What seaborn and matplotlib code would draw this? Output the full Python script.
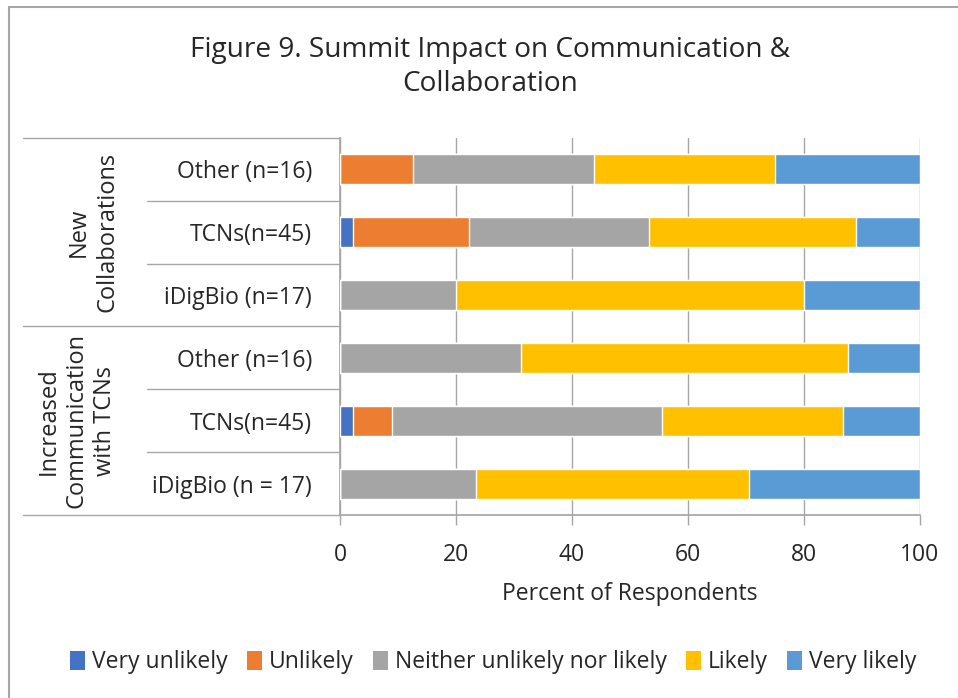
import numpy as np
import pandas as pd
import matplotlib
matplotlib.use("Agg")
import matplotlib.pyplot as plt
import seaborn as sns
from matplotlib.patches import Patch, Rectangle
from matplotlib.lines import Line2D
import matplotlib.transforms as mtransforms

# ---- data (percent of respondents), top row first ----
row_labels = ["Other (n=16)", "TCNs(n=45)", "iDigBio (n=17)",
              "Other (n=16)", "TCNs(n=45)", "iDigBio (n = 17)"]
groups = ["New\nCollaborations", "Increased\nCommunication\nwith TCNs"]
responses = ["Very unlikely", "Unlikely", "Neither unlikely nor likely",
             "Likely", "Very likely"]

very_unlikely = [0, 2.2, 0, 0, 2.2, 0]
unlikely = [12.5, 20.0, 0, 0, 6.7, 0]
neither = [31.25, 31.1, 20.0, 31.25, 46.7, 23.5]
likely = [31.25, 35.6, 60.0, 56.25, 31.1, 47.1]
very_likely = [25.0, 11.1, 20.0, 12.5, 13.3, 29.4]

colors = ["#4472C4", "#ED7D31", "#A5A5A5", "#FFC000", "#5B9BD5"]

sns.set_theme(style="white")
plt.rcParams["font.family"] = ["Open Sans", "DejaVu Sans"]

df = pd.DataFrame({"row": [f"r{i}" for i in range(len(row_labels))]})
series = [very_unlikely, unlikely, neither, likely, very_likely]
cum = np.cumsum(np.array(series), axis=0)

fig = plt.figure(figsize=(9.58, 6.98), dpi=100)
W, H = 958, 698
ax = fig.add_axes([340 / W, 1 - 515 / H, 580 / W, (515 - 138) / H])

# draw cumulative layers from the longest to the shortest
for k in range(len(responses) - 1, -1, -1):
    d = df.copy()
    d["value"] = cum[k]
    sns.barplot(data=d, x="value", y="row", orient="h", color=colors[k],
                width=0.48, saturation=1, ax=ax, zorder=3)

ax.set_xlim(0, 100)
ax.set_ylim(len(row_labels) - 0.5, -0.5)
ax.set_xticks(np.arange(0, 101, 20))
ax.tick_params(axis="x", labelsize=16.5, length=7, color="#A6A6A6", width=1,
               pad=13, direction="out", bottom=True)
ax.set_yticks(range(len(row_labels)))
ax.set_yticklabels(row_labels, fontsize=16.5)
ax.tick_params(axis="y", length=0, pad=20)
ax.set_xlabel("Percent of Respondents", fontsize=16.5, labelpad=11)
ax.set_ylabel("")
ax.grid(axis="x", color="#A6A6A6", linewidth=1, zorder=0)
ax.set_axisbelow(True)
for s in ["top", "right"]:
    ax.spines[s].set_visible(False)
ax.spines["left"].set_color("#A6A6A6")
ax.spines["bottom"].set_color("#A6A6A6")

# label-area separators
trans = mtransforms.blended_transform_factory(ax.transAxes, ax.transData)
x_outer = (23 - 340) / 580
x_inner = (147 - 340) / 580
for b in np.arange(-0.5, len(row_labels), 1.0):
    x0 = x_outer if b in (-0.5, 2.5, 5.5) else x_inner
    ax.add_line(Line2D([x0, 0], [b, b], transform=trans, color="#A6A6A6",
                       linewidth=1, clip_on=False))

# group labels
ax.text((93 - 340) / 580, 1.0, groups[0], transform=trans, rotation=90,
        ha="center", va="center", fontsize=17, linespacing=1.25)
ax.text((77 - 340) / 580, 4.0, groups[1], transform=trans, rotation=90,
        ha="center", va="center", fontsize=17, linespacing=1.25)

fig.text(490 / W, 1 - 67 / H, "Figure 9. Summit Impact on Communication &\nCollaboration",
         ha="center", va="center", fontsize=20.2, linespacing=1.3)

handles = [Patch(facecolor=c, edgecolor="none") for c in colors]
fig.legend(handles, responses, loc="center", bbox_to_anchor=(493 / W, 1 - 662 / H),
           ncol=5, frameon=False, fontsize=16.5, handlelength=0.65, handleheight=0.9,
           handletextpad=0.3, columnspacing=0.85)

fig.add_artist(Rectangle((9 / W, 0 - 0.1), 1.2, 1 - 7 / H + 0.1, transform=fig.transFigure,
                         fill=False, edgecolor="#A6A6A6", linewidth=1.5))

fig.savefig("out.png", dpi=100)
